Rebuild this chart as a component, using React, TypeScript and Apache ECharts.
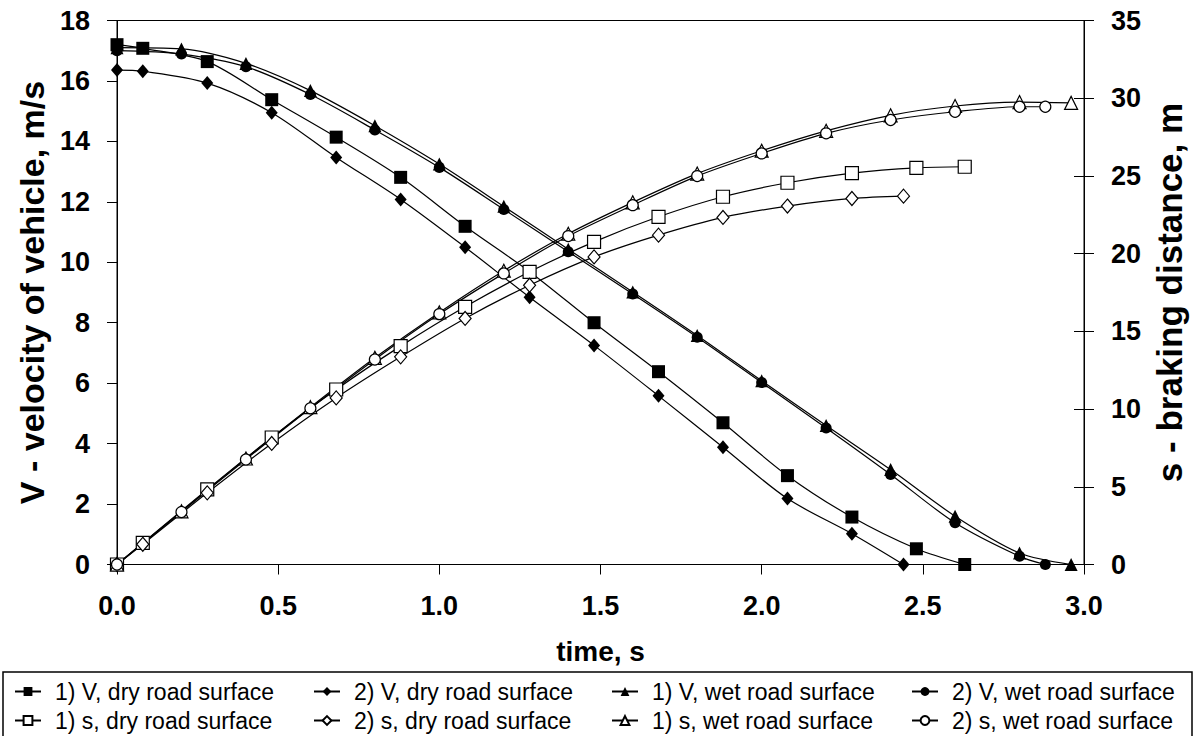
import React, { useEffect, useRef } from "react";
import * as echarts from "echarts";

// time points, s
const tDry1 = [0, 0.08, 0.28, 0.48, 0.68, 0.88, 1.08, 1.28, 1.48, 1.68, 1.88, 2.08, 2.28, 2.48, 2.63];
const tDry2 = [0, 0.08, 0.28, 0.48, 0.68, 0.88, 1.08, 1.28, 1.48, 1.68, 1.88, 2.08, 2.28, 2.44];
const tWet1 = [0, 0.2, 0.4, 0.6, 0.8, 1.0, 1.2, 1.4, 1.6, 1.8, 2.0, 2.2, 2.4, 2.6, 2.8, 2.96];
const tWet2 = [0, 0.2, 0.4, 0.6, 0.8, 1.0, 1.2, 1.4, 1.6, 1.8, 2.0, 2.2, 2.4, 2.6, 2.8, 2.88];

// velocity, m/s
const vDry1 = [17.2, 17.08, 16.64, 15.38, 14.14, 12.81, 11.19, 9.69, 8.0, 6.38, 4.69, 2.94, 1.57, 0.52, 0];
const vDry2 = [16.36, 16.32, 15.93, 14.95, 13.47, 12.08, 10.5, 8.84, 7.25, 5.58, 3.88, 2.18, 1.02, 0];
const vWet1 = [17.1, 17.06, 16.58, 15.68, 14.52, 13.25, 11.85, 10.43, 9.02, 7.58, 6.08, 4.6, 3.14, 1.6, 0.38, 0];
const vWet2 = [17.0, 16.89, 16.47, 15.55, 14.38, 13.14, 11.75, 10.35, 8.95, 7.52, 6.02, 4.52, 2.98, 1.38, 0.27, 0];

// braking distance, m
const sDry1 = [0, 1.39, 4.83, 8.17, 11.26, 14.05, 16.58, 18.83, 20.76, 22.37, 23.66, 24.56, 25.18, 25.52, 25.59];
const sDry2 = [0, 1.3, 4.61, 7.79, 10.72, 13.36, 15.83, 17.97, 19.79, 21.19, 22.33, 23.06, 23.55, 23.7];
const sWet1 = [0, 3.42, 6.82, 10.12, 13.3, 16.22, 18.9, 21.28, 23.3, 25.15, 26.62, 27.9, 28.9, 29.5, 29.75, 29.7];
const sWet2 = [0, 3.38, 6.76, 10.05, 13.19, 16.11, 18.73, 21.13, 23.12, 24.99, 26.45, 27.74, 28.6, 29.13, 29.45, 29.45];

const seriesNames = [
  "1) V, dry road surface",
  "2) V, dry road surface",
  "1) V, wet road surface",
  "2) V, wet road surface",
  "1) s, dry road surface",
  "2) s, dry road surface",
  "1) s, wet road surface",
  "2) s, wet road surface",
];

const xTickLabels = ["0.0", "0.5", "1.0", "1.5", "2.0", "2.5", "3.0"];

const FONT = "Liberation Sans, Arial, sans-serif";

function pairs(t: number[], v: number[]) {
  return t.map((x, i) => [x, v[i]]);
}

function mk(
  name: string,
  t: number[],
  v: number[],
  yAxisIndex: number,
  symbol: string,
  filled: boolean,
  size: number | number[]
) {
  return {
    name,
    type: "line",
    yAxisIndex,
    data: pairs(t, v),
    symbol,
    symbolSize: size,
    showAllSymbol: true,
    smooth: 0.3,
    lineStyle: { color: "#000", width: 1.2 },
    itemStyle: {
      color: filled ? "#000" : "#fff",
      borderColor: "#000",
      borderWidth: filled ? 0 : 1.2,
    },
    emphasis: { disabled: true },
    z: filled ? 3 : 4,
  };
}

export default function App() {
  const ref = useRef<HTMLDivElement>(null);
  useEffect(() => {
    const chart = echarts.init(ref.current!, null, { renderer: "svg" });
    const colLeft = [14, 313, 611, 911];
    const rowTop = [680, 709];
    const legends: any[] = [];
    seriesNames.forEach((n, i) => {
      legends.push({
        data: [n],
        left: colLeft[i % 4],
        top: rowTop[Math.floor(i / 4)],
        itemWidth: 26,
        itemHeight: 11,
        selectedMode: false,
        padding: 0,
        textStyle: {
          fontSize: 23,
          fontFamily: FONT,
          color: "#000",
          padding: [0, 0, 0, 9],
        },
      });
    });
    const option: any = {
      animation: false,
      backgroundColor: "#fff",
      textStyle: { fontFamily: FONT },
      grid: {
        left: 117,
        right: 112,
        top: 20.5,
        bottom: 171.5,
        show: true,
        borderColor: "#000",
        borderWidth: 1,
        backgroundColor: "transparent",
      },
      legend: legends,
      xAxis: {
        type: "value",
        min: 0,
        max: 3,
        interval: 0.5,
        name: "time, s",
        nameLocation: "middle",
        nameGap: 73,
        nameTextStyle: { fontSize: 28, fontWeight: "bold", color: "#000", fontFamily: FONT },
        axisLine: { onZero: false, lineStyle: { color: "#000", width: 1 } },
        axisTick: { inside: false, length: 10, lineStyle: { color: "#000" } },
        axisLabel: {
          margin: 28,
          fontSize: 27,
          fontWeight: "bold",
          color: "#000",
          fontFamily: FONT,
          formatter: (v: number) => xTickLabels[Math.round(v / 0.5)] ?? v.toFixed(1),
        },
        splitLine: { show: false },
      },
      yAxis: [
        {
          type: "value",
          position: "left",
          min: 0,
          max: 18,
          interval: 2,
          name: "V - velocity of vehicle, m/s",
          nameLocation: "middle",
          nameGap: 68,
          nameTextStyle: { fontSize: 34, fontWeight: "bold", color: "#000", fontFamily: FONT },
          axisLine: { show: true, lineStyle: { color: "#000", width: 1 } },
          axisTick: { show: true, inside: false, length: 10, lineStyle: { color: "#000" } },
          axisLabel: { margin: 27, fontSize: 27, fontWeight: "bold", color: "#000", fontFamily: FONT },
          splitLine: { show: false },
        },
        {
          type: "value",
          position: "right",
          min: 0,
          max: 35,
          interval: 5,
          name: "s - braking distance, m",
          nameLocation: "middle",
          nameGap: 66,
          nameTextStyle: { fontSize: 35, fontWeight: "bold", color: "#000", fontFamily: FONT },
          axisLine: { show: true, lineStyle: { color: "#000", width: 1 } },
          axisTick: { show: true, inside: false, length: 10, lineStyle: { color: "#000" } },
          axisLabel: { margin: 27, fontSize: 27, fontWeight: "bold", color: "#000", fontFamily: FONT },
          splitLine: { show: false },
        },
        {
          type: "value",
          position: "right",
          min: 0,
          max: 35,
          interval: 5,
          axisLine: { show: false },
          axisTick: { show: true, inside: true, length: 10, lineStyle: { color: "#000" } },
          axisLabel: { show: false },
          splitLine: { show: false },
        },
      ],
      graphic: [
        {
          type: "rect",
          shape: { x: 3, y: 672, width: 1189, height: 90 },
          style: { fill: "none", stroke: "#000", lineWidth: 1.5 },
          silent: true,
        },
      ],
      series: [
        mk(seriesNames[0], tDry1, vDry1, 0, "rect", true, 13),
        mk(seriesNames[1], tDry2, vDry2, 0, "diamond", true, [12, 14]),
        mk(seriesNames[2], tWet1, vWet1, 0, "triangle", true, [13, 13]),
        mk(seriesNames[3], tWet2, vWet2, 0, "circle", true, 11),
        mk(seriesNames[4], tDry1, sDry1, 1, "rect", false, 13),
        mk(seriesNames[5], tDry2, sDry2, 1, "diamond", false, [12, 14]),
        mk(seriesNames[6], tWet1, sWet1, 1, "triangle", false, [13, 13]),
        mk(seriesNames[7], tWet2, sWet2, 1, "circle", false, 11),
      ],
    };
    chart.setOption(option);
    return () => chart.dispose();
  }, []);
  return (
    <div
      ref={ref}
      style={{ position: "absolute", left: 0, top: 0, width: 1196, height: 736 }}
    />
  );
}
